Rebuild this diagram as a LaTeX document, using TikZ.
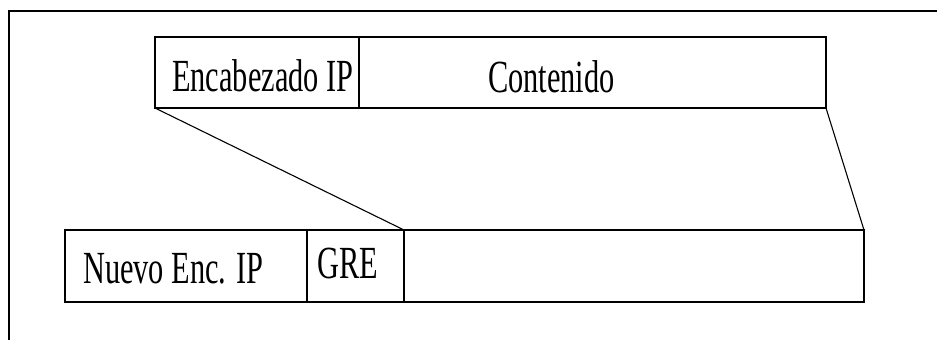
\documentclass[tikz,border=0pt]{standalone}
\usepackage{fontspec}
\newfontfamily\pktfont[FakeStretch=0.66]{Liberation Serif}
\begin{document}
\begin{tikzpicture}[
    x=1pt, y=-1pt,
    cell/.style={
      draw=black,
      line width=1.3pt,
      anchor=north west,
      minimum height=71pt,
      outer sep=0pt,
      inner sep=0pt
    },
    pktlabel/.style={
      anchor=base west,
      inner sep=0pt,
      font=\pktfont\fontsize{46}{50}\selectfont
    },
    link/.style={line width=1.1pt}
  ]
    \useasboundingbox (0,0) rectangle (937,340);
    \draw[line width=1.3pt] (937,11) -- (9,11) -- (9,340);
    % original packet
    \node[cell, minimum width=204pt] (enc) at (155,37) {};
    \node[cell, minimum width=467pt] (cont) at (enc.north east) {};
    % encapsulated packet
    \node[cell, minimum width=242pt, minimum height=72pt] (nuevo) at (65,230) {};
    \node[cell, minimum width=97pt, minimum height=72pt] (gre) at (nuevo.north east) {};
    \node[cell, minimum width=460pt, minimum height=72pt] (carga) at (gre.north east) {};
    \node[pktlabel] (encl) at (172,91) {Encabezado IP};
    \node[pktlabel] (contl) at (488,92) {Contenido};
    \node[pktlabel] (nuevol) at (83,283) {Nuevo Enc. IP};
    \node[pktlabel] (grel) at (317,278) {GRE};
    \draw[link] (enc.south west) -- (carga.north west);
    \draw[link] (cont.south east) -- (carga.north east);
  \end{tikzpicture}
\end{document}
